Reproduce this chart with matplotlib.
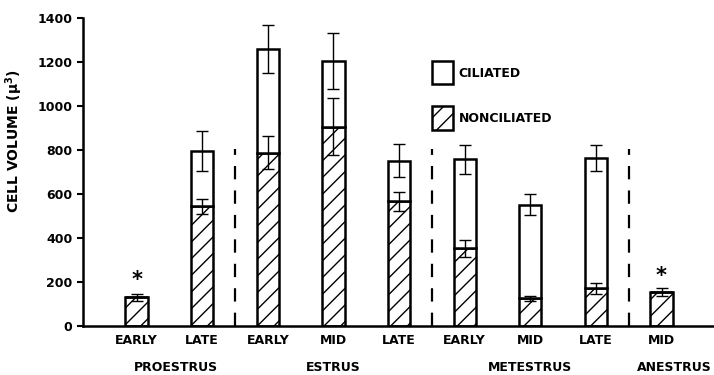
import numpy as np
import matplotlib.pyplot as plt
from matplotlib.patches import Patch

# data
stages = ['EARLY', 'LATE', 'EARLY', 'MID', 'LATE', 'EARLY', 'MID', 'LATE', 'MID']
phases = ['PROESTRUS', 'ESTRUS', 'METESTRUS', 'ANESTRUS']
phase_pos = [0.6, 3.0, 6.0, 8.2]
total = [130, 796, 1260, 1205, 752, 757, 550, 764, 155]
total_err = [17, 90, 110, 128, 77, 65, 48, 60, 18]
nonciliated = [130, 544, 787, 905, 566, 352, 125, 170, 155]
noncil_err = [17, 35, 75, 130, 42, 40, 12, 25, 18]
has_ciliated = [False, True, True, True, True, True, True, True, False]
star_y = [210, 228]
star_x = [0, 8]
dividers = [1.5, 4.5, 7.5]

plt.rcParams['font.family'] = 'DejaVu Sans'
plt.rcParams['font.weight'] = 'bold'
plt.rcParams['hatch.linewidth'] = 1.0

fig = plt.figure(figsize=(7.14, 3.75), dpi=100)
ax = fig.add_axes([0.116, 0.131, 0.884, 0.821])

x = np.arange(len(stages))
w = 0.34
cil = [t - n if c else 0 for t, n, c in zip(total, nonciliated, has_ciliated)]

ax.bar(x, nonciliated, w, color='white', edgecolor='black', hatch='//', linewidth=1.8)
ax.bar(x, cil, w, bottom=nonciliated, color='white', edgecolor='black', linewidth=1.8)

for i in range(len(x)):
    ax.errorbar(x[i], total[i], yerr=total_err[i], color='black', capsize=4, lw=1, capthick=1)
    if has_ciliated[i]:
        ax.errorbar(x[i], nonciliated[i], yerr=noncil_err[i], color='black', capsize=4, lw=1, capthick=1)

for sx, sy in zip(star_x, star_y):
    ax.text(sx, sy, '*', ha='center', va='center', fontsize=15, fontweight='bold')

for d in dividers:
    ax.plot([d, d], [0, 805], color='black', lw=1.6, linestyle=(0, (6, 5)))

ax.set_xlim(-0.82, 8.8)
ax.set_ylim(0, 1400)
ax.set_yticks(range(0, 1401, 200))
ax.set_xticks(x)
ax.set_xticklabels(stages, fontsize=9, fontweight='bold')
ax.tick_params(axis='x', length=0, pad=6)
ax.tick_params(axis='y', labelsize=9, width=1.5, length=4)
for lbl in ax.get_yticklabels():
    lbl.set_fontweight('bold')
ax.spines['top'].set_visible(False)
ax.spines['right'].set_visible(False)
ax.spines['left'].set_linewidth(1.8)
ax.spines['bottom'].set_linewidth(1.8)
ax.set_ylabel('CELL VOLUME ($\\mathbf{\\mu^3}$)', fontsize=10, fontweight='bold')
ax.yaxis.set_label_coords(-0.092, 0.6)

for p, name in zip(phase_pos, phases):
    ax.text(p, -0.135, name, transform=ax.get_xaxis_transform(), ha='center', va='center',
            fontsize=9, fontweight='bold')

handles = [Patch(facecolor='white', edgecolor='black', linewidth=1.8, label='CILIATED'),
           Patch(facecolor='white', edgecolor='black', linewidth=1.8, hatch='//', label='NONCILIATED')]
ax.legend(handles=handles, loc='upper left', bbox_to_anchor=(0.553, 0.86), frameon=False,
          borderpad=0, borderaxespad=0, handlelength=1.7, handleheight=2.5,
          labelspacing=1.75, handletextpad=0.45, prop={'size': 9, 'weight': 'bold'})

fig.savefig('out.png', dpi=100)
